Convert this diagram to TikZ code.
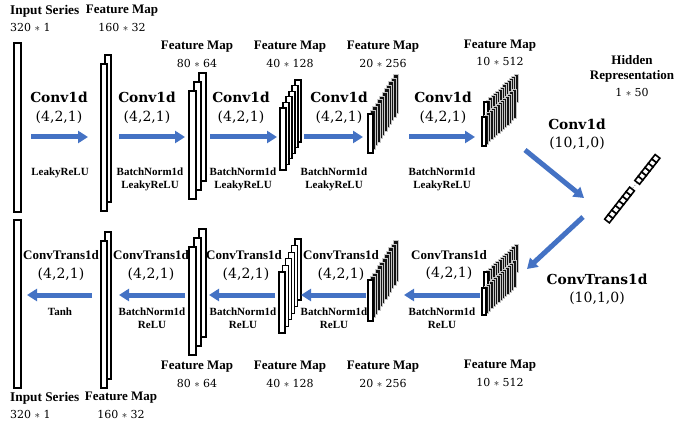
\documentclass[tikz,border=0pt]{standalone}
\usepackage{fontspec}
\setmainfont{Liberation Serif}
\newfontfamily\dvs{DejaVu Serif}
\usetikzlibrary{arrows.meta}
\definecolor{arrowblue}{RGB}{68,114,196}
\tikzset{
  bar/.style={draw=black, fill=white, line width=1.1pt},
  densebar/.style={draw=gray!45, fill=black!92, line width=0.6pt},
  hsq/.style={draw=black, fill=white, line width=1.6pt, line join=miter},
  flow/.style={draw=arrowblue, line width=5pt, -{Triangle[width=12pt,length=10pt]}},
  lbl/.style={font=\fontsize{13}{14}\selectfont\bfseries, inner sep=0},
  inl/.style={font=\fontsize{13.3}{14}\selectfont\bfseries, inner sep=0, anchor=west},
  num/.style={font=\dvs\fontsize{11}{12}\selectfont, inner sep=0},
  op/.style={font=\dvs\fontsize{13.8}{15}\selectfont\bfseries, inner sep=0},
  prm/.style={font=\dvs\fontsize{14}{15}\selectfont, inner sep=0},
  act/.style={font=\fontsize{11}{13}\selectfont\bfseries, inner sep=0, align=center},
  ctl/.style={font=\fontsize{13}{14}\selectfont\bfseries, inner sep=0},
}
% open stack: white bars, back to front
\newcommand{\fmstack}[8][]{%
  \foreach \i in {#8,...,0}{%
    \draw[bar,#1] ({#2+\i*(#6)},{#3+\i*(#7)}) rectangle ++(#4,#5);
  }%
}
% dense stack: dark bars behind, white front bar
\newcommand{\dnstack}[7]{%
  \foreach \i in {#7,...,1}{%
    \draw[densebar] ({#1+\i*(#5)},{#2+\i*(#6)}) rectangle ++(#3,#4);
  }%
  \draw[bar] (#1,#2) rectangle ++(#3,#4);
}
\begin{document}
\begin{tikzpicture}[x=1pt,y=-1pt]
\useasboundingbox (0,0) rectangle (676,427);
\fill[white] (0,0) rectangle (676,427);

% ---------- top row stacks ----------
\fmstack{14}{43}{7}{169}{0}{0}{0}
\fmstack{101}{64}{6}{147}{4}{-9}{1}
\fmstack{189}{91}{7}{108}{5}{-9}{2}
\fmstack[line width=1.3pt]{280}{108}{6}{62}{3}{-5.6}{5}
\dnstack{368}{114}{5}{39}{2.3}{-3.6}{11}
\dnstack{484}{102}{4}{28}{2.3}{-2.15}{13}
\dnstack{482}{117}{4}{29}{2.3}{-2.1}{13}

% ---------- bottom row stacks ----------
\fmstack{14}{220}{7}{168}{0}{0}{0}
\fmstack{101}{241}{6}{147}{4}{-9}{1}
\fmstack{189}{247}{7}{108}{5}{-9}{2}
\fmstack[line width=1.3pt]{279}{272}{6}{61}{3.2}{-6.6}{5}
\dnstack{368}{280}{5}{41}{2.3}{-3.6}{11}
\dnstack{484}{272}{4}{28}{2.3}{-2.1}{13}
\dnstack{482}{288}{4}{27}{2.3}{-2.1}{13}

% ---------- hidden representation ----------
\begin{scope}[shift={(607,221)}, x={(0.616pt,0.788pt)}, y={(0.788pt,-0.616pt)}]
  \foreach \k in {0,...,6}
    \draw[hsq] ({\k*5.8},-3) -- ++(5.8,0) -- ++(0,6) -- ++(-5.8,0) -- cycle;
  \draw[dotted, line width=0.8pt, gray] (42,0) -- (48,0);
  \foreach \k in {0,...,5}
    \draw[hsq] ({49+\k*5.5},-3) -- ++(5.5,0) -- ++(0,6) -- ++(-5.5,0) -- cycle;
\end{scope}

% ---------- arrow end points ----------
\coordinate (t1s) at (31,137);  \coordinate (t1e) at (88,137);
\coordinate (t2s) at (119,137); \coordinate (t2e) at (185,137);
\coordinate (t3s) at (210,137); \coordinate (t3e) at (277,137);
\coordinate (t4s) at (304,137); \coordinate (t4e) at (363,137);
\coordinate (t5s) at (409,137); \coordinate (t5e) at (475,137);
\coordinate (d1s) at (525,150); \coordinate (d1e) at (584,198);
\coordinate (d2s) at (583,217); \coordinate (d2e) at (527,269);
\coordinate (b5s) at (480,295); \coordinate (b5e) at (404,295);
\coordinate (b4s) at (366,295); \coordinate (b4e) at (301,295);
\coordinate (b3s) at (275,295); \coordinate (b3e) at (209,295);
\coordinate (b2s) at (185,295); \coordinate (b2e) at (119,295);
\coordinate (b1s) at (92,295);  \coordinate (b1e) at (27,295);

\foreach \a in {t1,t2,t3,t4,t5,d1,d2,b5,b4,b3,b2,b1}
  \draw[flow] (\a s) -- (\a e);

% ---------- top labels ----------
\node[inl] (tin) at (10,11) {Input Series};
\node[num, anchor=west] (tinn) at (10,27) {320 $\ast$ 1};
\node[lbl] (tf1) at (122,11) {Feature Map};
\node[num] (tf1n) at (122,27) {160 $\ast$ 32};
\node[lbl] (tf2) at (197,47) {Feature Map};
\node[num] (tf2n) at (197,63) {80 $\ast$ 64};
\node[lbl] (tf3) at (290,47) {Feature Map};
\node[num] (tf3n) at (290,63) {40 $\ast$ 128};
\node[lbl] (tf4) at (383,47) {Feature Map};
\node[num] (tf4n) at (383,63) {20 $\ast$ 256};
\node[lbl] (tf5) at (500,46) {Feature Map};
\node[num] (tf5n) at (500,61) {10 $\ast$ 512};
\node[lbl] (hid1) at (632,60) {Hidden};
\node[lbl] (hid2) at (632,76) {Representation};
\node[num] (hidn) at (632,92) {1 $\ast$ 50};

\node[op] (c1) at (59,97) {Conv1d};   \node[prm] (c1p) at (59,117) {(4,2,1)};
\node[op] (c2) at (147,97) {Conv1d};  \node[prm] (c2p) at (147,117) {(4,2,1)};
\node[op] (c3) at (241,97) {Conv1d};  \node[prm] (c3p) at (241,117) {(4,2,1)};
\node[op] (c4) at (339,97) {Conv1d};  \node[prm] (c4p) at (339,117) {(4,2,1)};
\node[op] (c5) at (443,97) {Conv1d};  \node[prm] (c5p) at (443,117) {(4,2,1)};
\node[op] (c6) at (577,124) {Conv1d}; \node[prm] (c6p) at (577,143) {(10,1,0)};

\node[act] (a1) at (60,173) {LeakyReLU};
\node[act] (a2) at (150,179.5) {BatchNorm1d\\LeakyReLU};
\node[act] (a3) at (243,179.5) {BatchNorm1d\\LeakyReLU};
\node[act] (a4) at (334,179.5) {BatchNorm1d\\LeakyReLU};
\node[act] (a5) at (442,179.5) {BatchNorm1d\\LeakyReLU};

% ---------- bottom labels ----------
\node[ctl] (u1) at (61,255) {ConvTrans1d};  \node[prm] (u1p) at (61,274) {(4,2,1)};
\node[ctl] (u2) at (151,255) {ConvTrans1d}; \node[prm] (u2p) at (151,274) {(4,2,1)};
\node[ctl] (u3) at (244,255) {ConvTrans1d}; \node[prm] (u3p) at (246,274) {(4,2,1)};
\node[ctl] (u4) at (341,255) {ConvTrans1d}; \node[prm] (u4p) at (341,274) {(4,2,1)};
\node[ctl] (u5) at (449,255) {ConvTrans1d}; \node[prm] (u5p) at (449,273) {(4,2,1)};
\node[op] (u6) at (597,279) {ConvTrans1d};  \node[prm] (u6p) at (597,298) {(10,1,0)};

\node[act] (r1) at (60,312) {Tanh};
\node[act] (r2) at (152,318.5) {BatchNorm1d\\ReLU};
\node[act] (r3) at (243,318.5) {BatchNorm1d\\ReLU};
\node[act] (r4) at (334,318.5) {BatchNorm1d\\ReLU};
\node[act] (r5) at (442,318.5) {BatchNorm1d\\ReLU};

\node[inl] (bin) at (10,398) {Input Series};
\node[num, anchor=west] (binn) at (10,414) {320 $\ast$ 1};
\node[lbl] (bf1) at (121,398) {Feature Map};
\node[num] (bf1n) at (121,414) {160 $\ast$ 32};
\node[lbl] (bf2) at (197,367) {Feature Map};
\node[num] (bf2n) at (197,383) {80 $\ast$ 64};
\node[lbl] (bf3) at (290,367) {Feature Map};
\node[num] (bf3n) at (290,383) {40 $\ast$ 128};
\node[lbl] (bf4) at (383,367) {Feature Map};
\node[num] (bf4n) at (383,383) {20 $\ast$ 256};
\node[lbl] (bf5) at (500,366) {Feature Map};
\node[num] (bf5n) at (500,382) {10 $\ast$ 512};
\end{tikzpicture}
\end{document}
